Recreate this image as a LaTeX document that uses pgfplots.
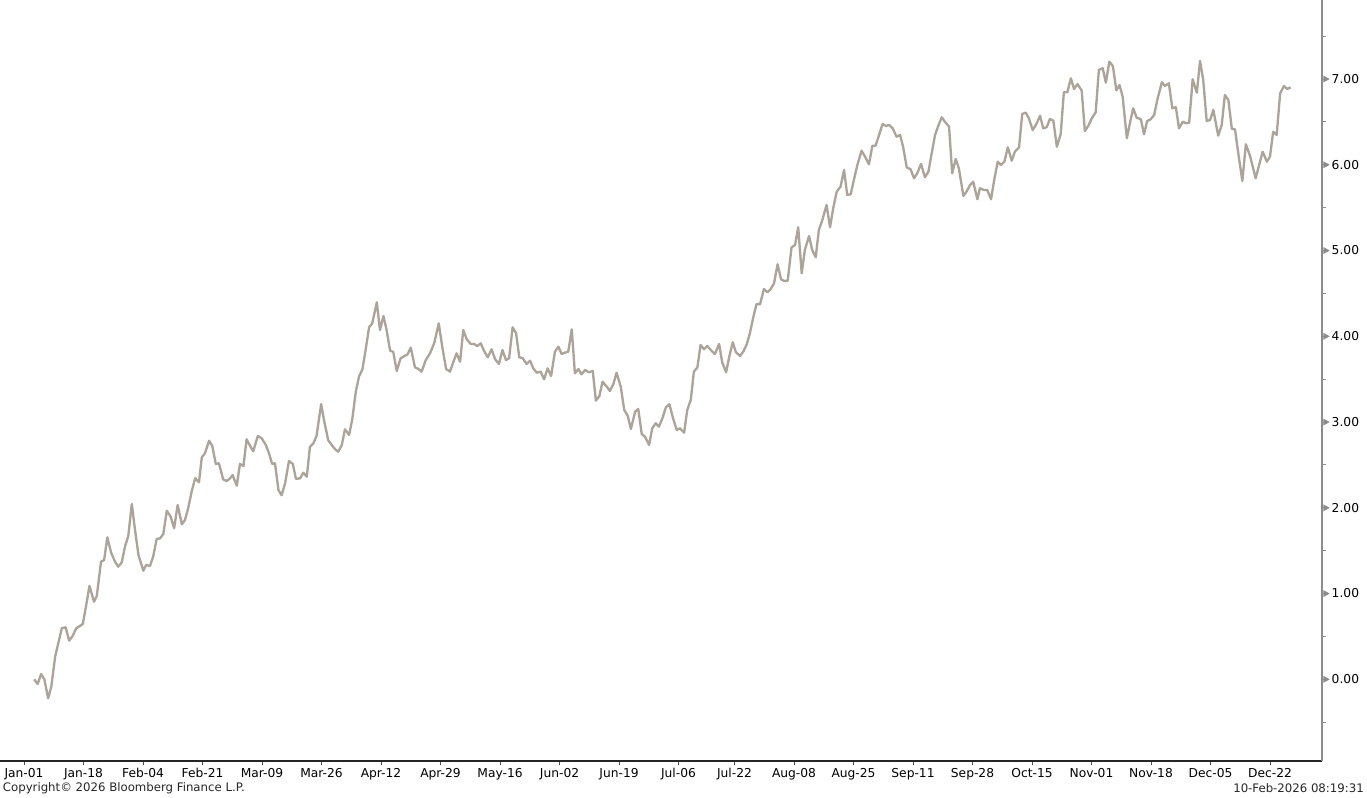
\documentclass[border=0pt]{standalone}
\usepackage{fontspec}
\setmainfont{DejaVu Sans}
\usepackage{pgfplots}
\pgfplotsset{compat=1.18}
\definecolor{linec}{RGB}{172,163,153}
\definecolor{tickgray}{RGB}{140,140,140}
\begin{document}
\begin{tikzpicture}
\begin{axis}[
  scale only axis, width=991.5pt, height=570.75pt,
  xmin=-6.857, xmax=370.857, ymin=-0.953, ymax=7.921,
  axis x line*=bottom, axis y line*=right,
  x axis line style={black!85, line width=0.8pt},
  y axis line style={tickgray, line width=0.8pt},
  tick align=outside,
  major tick length=3pt, minor tick length=3pt,
  xtick={0,17,34,51,68,85,102,119,136,153,170,187,203,220,237,254,271,288,305,322,339,356},
  xticklabels={Jan-01,Jan-18,Feb-04,Feb-21,Mar-09,Mar-26,Apr-12,Apr-29,May-16,Jun-02,Jun-19,Jul-06,Jul-22,Aug-08,Aug-25,Sep-11,Sep-28,Oct-15,Nov-01,Nov-18,Dec-05,Dec-22},
  xtick style={black!70, line width=0.6pt},
  ytick={0,1,2,3,4,5,6,7},
  minor ytick={-0.5,0.5,1.5,2.5,3.5,4.5,5.5,6.5,7.5},
  ytick style={tickgray, line width=0.6pt},
  minor y tick style={tickgray, line width=0.6pt},
  every tick label/.append style={font=\fontsize{9.2}{11}\selectfont, text=black},
  xticklabel style={inner sep=0pt, yshift=-2.3pt},
  yticklabel style={anchor=west, inner sep=0pt, xshift=-2.2pt},
  yticklabel={\tikz[baseline=-0.36em]\fill[tickgray](0,2.6pt)--(4.8pt,0)--(0,-2.6pt)--cycle;\hspace{1.5pt}\pgfmathprintnumber[fixed,zerofill,precision=2,assume math mode=true]{\tick}},
]
\addplot[linec, line width=1.75pt, line join=round] coordinates {
(2.9,0.000) (3.9,-0.055) (4.9,0.062) (5.8,0.000) (6.9,-0.222) (7.8,-0.086) (8.9,0.264) (9.8,0.420)
(10.8,0.595) (11.9,0.606) (12.9,0.450) (13.9,0.505) (14.9,0.595) (15.9,0.620) (16.8,0.645) (17.7,0.847)
(18.7,1.088) (20.0,0.905) (20.8,0.971) (22.0,1.371) (22.9,1.391) (23.8,1.656) (24.9,1.476) (26.0,1.371)
(26.9,1.313) (27.9,1.360) (28.9,1.554) (29.8,1.671) (30.8,2.044) (31.7,1.749) (32.7,1.449) (34.1,1.266)
(34.9,1.333) (36.0,1.321) (36.9,1.430) (37.9,1.636) (38.9,1.644) (39.8,1.694) (40.8,1.966) (41.9,1.896)
(42.9,1.761) (43.9,2.033) (45.1,1.807) (46.0,1.858) (46.9,1.994) (47.9,2.188) (48.9,2.344) (50.0,2.297)
(50.8,2.589) (51.7,2.635) (52.9,2.782) (53.8,2.720) (54.8,2.510) (55.7,2.519) (56.9,2.332) (57.9,2.312)
(58.9,2.344) (59.6,2.382) (60.8,2.257) (61.7,2.511) (62.7,2.487) (63.6,2.799) (64.6,2.720) (65.5,2.659)
(66.8,2.837) (67.9,2.810) (69.1,2.732) (70.0,2.635) (70.9,2.511) (71.7,2.519) (72.7,2.207) (73.6,2.146)
(74.6,2.285) (75.7,2.545) (76.8,2.511) (77.7,2.336) (78.9,2.344) (79.8,2.409) (80.8,2.362) (81.7,2.712)
(82.7,2.752) (83.6,2.841) (84.9,3.210) (85.8,3.004) (86.9,2.790) (87.9,2.732) (89.1,2.674) (89.8,2.654)
(90.8,2.732) (91.7,2.915) (92.9,2.849) (93.8,3.035) (94.8,3.354) (95.7,3.528) (96.7,3.615) (97.6,3.840)
(98.6,4.104) (99.5,4.151) (100.8,4.396) (101.7,4.073) (102.7,4.236) (103.6,4.073) (104.6,3.832) (105.5,3.817)
(106.5,3.595) (107.6,3.743) (108.9,3.773) (109.6,3.790) (110.5,3.867) (111.7,3.638) (112.7,3.618) (113.6,3.587)
(114.8,3.723) (116.0,3.801) (117.2,3.918) (118.5,4.151) (119.5,3.878) (120.6,3.618) (121.7,3.587) (122.7,3.703)
(123.6,3.801) (124.6,3.703) (125.5,4.073) (126.5,3.965) (127.6,3.910) (128.6,3.910) (129.5,3.886) (130.5,3.918)
(131.4,3.832) (132.5,3.755) (133.6,3.848) (134.6,3.731) (135.7,3.677) (136.7,3.840) (137.7,3.723) (138.6,3.743)
(139.6,4.104) (140.6,4.035) (141.5,3.755) (142.5,3.743) (143.6,3.677) (144.6,3.715) (145.5,3.626) (146.5,3.575)
(147.6,3.587) (148.6,3.498) (149.6,3.626) (150.6,3.537) (151.7,3.820) (152.7,3.878) (153.6,3.793) (154.6,3.810)
(155.5,3.820) (156.5,4.081) (157.4,3.568) (158.4,3.618) (159.3,3.556) (160.3,3.607) (161.4,3.580) (162.5,3.595)
(163.4,3.249) (164.4,3.304) (165.3,3.470) (166.5,3.412) (167.4,3.362) (168.4,3.443) (169.3,3.575) (170.5,3.412)
(171.5,3.140) (172.5,3.070) (173.4,2.919) (174.6,3.120) (175.5,3.152) (176.5,2.860) (177.4,2.829) (178.6,2.732)
(179.5,2.927) (180.5,2.985) (181.4,2.945) (182.4,3.043) (183.4,3.172) (184.4,3.207) (185.5,3.035) (186.5,2.907)
(187.4,2.927) (188.6,2.875) (189.5,3.140) (190.5,3.257) (191.4,3.587) (192.4,3.638) (193.3,3.898) (194.3,3.848)
(195.2,3.886) (196.5,3.828) (197.4,3.793) (198.6,3.910) (199.5,3.692) (200.6,3.580) (201.5,3.762) (202.5,3.930)
(203.4,3.813) (204.6,3.770) (205.5,3.820) (206.5,3.906) (207.4,4.035) (208.4,4.228) (209.3,4.376) (210.3,4.373)
(211.4,4.551) (212.4,4.513) (213.3,4.548) (214.3,4.618) (215.3,4.839) (216.3,4.664) (217.2,4.644) (218.2,4.648)
(219.3,5.037) (220.3,5.064) (221.2,5.271) (222.2,4.734) (223.1,5.006) (224.3,5.169) (225.2,5.006) (226.2,4.921)
(227.1,5.239) (228.1,5.356) (229.3,5.531) (230.3,5.271) (231.2,5.492) (232.2,5.686) (233.3,5.744) (234.3,5.939)
(235.2,5.649) (236.2,5.655) (237.1,5.822) (238.1,5.997) (239.3,6.164) (240.3,6.094) (241.4,6.005) (242.4,6.222)
(243.3,6.222) (244.3,6.347) (245.3,6.475) (246.3,6.452) (247.2,6.463) (248.2,6.425) (249.3,6.327) (250.3,6.347)
(251.2,6.203) (252.2,5.970) (253.3,5.947) (254.3,5.842) (255.2,5.900) (256.3,6.009) (257.4,5.854) (258.4,5.919)
(259.3,6.125) (260.3,6.347) (261.2,6.452) (262.2,6.553) (263.1,6.502) (264.3,6.444) (265.2,5.900) (266.2,6.067)
(267.1,5.958) (268.4,5.636) (269.3,5.686) (270.3,5.764) (271.2,5.802) (272.4,5.597) (273.1,5.725) (274.3,5.706)
(275.2,5.706) (276.3,5.597) (277.2,5.822) (278.2,6.036) (279.1,5.997) (280.1,6.036) (281.1,6.203) (282.2,6.047)
(283.1,6.152) (284.3,6.203) (285.2,6.592) (286.2,6.607) (287.1,6.542) (288.2,6.405) (289.1,6.463) (290.3,6.572)
(291.2,6.425) (292.2,6.437) (293.1,6.533) (294.1,6.514) (295.1,6.210) (296.2,6.358) (297.1,6.845) (298.1,6.845)
(299.1,7.008) (300.0,6.883) (301.0,6.941) (302.2,6.863) (303.1,6.393) (304.1,6.455) (305.1,6.542) (306.2,6.612)
(307.1,7.105) (308.2,7.125) (309.1,6.957) (310.1,7.202) (311.1,7.151) (312.1,6.868) (313.0,6.930) (313.9,6.793)
(315.1,6.308) (316.0,6.490) (316.9,6.658) (317.9,6.549) (319.1,6.530) (320.0,6.355) (320.9,6.510) (321.9,6.530)
(322.9,6.580) (323.9,6.775) (325.1,6.961) (326.0,6.918) (327.1,6.950) (328.1,6.658) (329.1,6.670) (330.0,6.425)
(331.1,6.502) (332.0,6.483) (332.9,6.490) (333.9,6.996) (335.1,6.840) (336.0,7.210) (336.9,6.996) (337.9,6.510)
(338.9,6.522) (339.8,6.639) (341.2,6.339) (342.2,6.463) (343.1,6.813) (344.1,6.755) (345.1,6.417) (346.0,6.413)
(347.0,6.114) (348.1,5.810) (349.1,6.238) (350.3,6.102) (351.9,5.842) (352.9,5.997) (353.9,6.152) (355.1,6.036)
(356.0,6.094) (356.9,6.385) (357.9,6.347) (358.9,6.833) (360.0,6.918) (360.9,6.883) (361.9,6.903)
};
\end{axis}
\node[anchor=west, inner sep=0pt, font=\fontsize{8.8}{11}\selectfont, text=black!85] at (2pt,-20.5pt) {Copyright© 2026 Bloomberg Finance L.P.};
\node[anchor=east, inner sep=0pt, font=\fontsize{8.8}{11}\selectfont, text=black!85] at (1023pt,-20.5pt) {10-Feb-2026 08:19:31};
\pgfresetboundingbox
\path (0,-27pt) rectangle (1025.25pt,570.75pt);
\end{tikzpicture}
\end{document}
